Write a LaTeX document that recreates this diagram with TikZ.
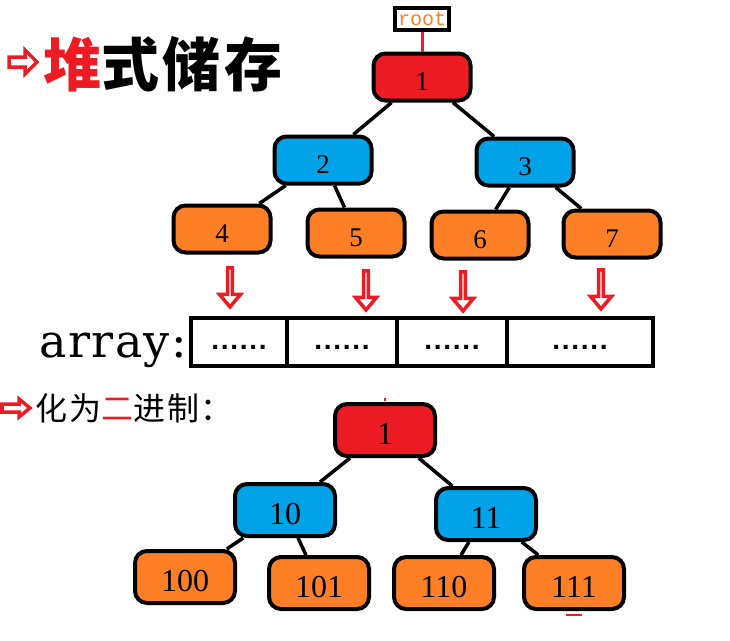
\documentclass[tikz,border=0pt]{standalone}
\usepackage{fontspec}
\setmainfont{Liberation Serif}
\newfontfamily\cjkTitle[LetterSpace=6]{Noto Sans CJK SC}
\newfontfamily\cjkLine[LetterSpace=6]{Noto Sans CJK SC}
\newfontfamily\monoFont{Liberation Mono}
\newfontfamily\dotFont[LetterSpace=6]{Liberation Sans}
\newfontfamily\arrayFont[LetterSpace=3]{DejaVu Serif}
\usetikzlibrary{shapes.arrows,positioning}
\definecolor{paintRed}{HTML}{ED1C24}
\definecolor{paintBlue}{HTML}{00A2E8}
\definecolor{paintOrange}{HTML}{FF7F27}

\begin{document}
\begin{tikzpicture}[x=1pt,y=-1pt,
    treeBox/.style={draw, line width=4pt, rounded corners=12pt, inner sep=0pt,
      minimum width=97pt, minimum height=47pt,
      font=\fontsize{27}{27}\selectfont, text height=26pt, text depth=0pt},
    binBox/.style={treeBox, minimum width=100pt, minimum height=52pt,
      font=\fontsize{32}{32}\selectfont, text height=28pt},
    treeEdge/.style={line width=3.5pt},
    arrowOutline/.style={draw=paintRed, fill=white, line width=3.5pt, line join=miter},
    downArrow/.style={single arrow, arrowOutline, inner sep=0pt,
      single arrow head extend=6pt, single arrow tip angle=80,
      shape border rotate=270, minimum height=39pt, minimum width=21pt},
    cellBox/.style={draw, line width=4pt, minimum height=48pt, inner sep=0pt,
      outer sep=0pt, font=\dotFont\bfseries\fontsize{28}{28}\selectfont,
      text height=14pt, text depth=0pt}]

  \useasboundingbox (0,0) rectangle (730,640);

  % headings
  \draw[arrowOutline] (9,57) -- (25,57) -- (25,50) -- (37,62) -- (25,74)
    -- (25,67) -- (9,67) -- cycle;
  \node[anchor=west, inner sep=0pt, font=\cjkTitle\bfseries\fontsize{58}{58}\selectfont]
    (title) at (43,64) {\textcolor{paintRed}{堆}式储存};
  \draw[arrowOutline] (2,404) -- (19,404) -- (19,399) -- (30,408) -- (19,417)
    -- (19,412) -- (2,412) -- cycle;
  \node[anchor=west, inner sep=0pt, font=\cjkLine\fontsize{32}{32}\selectfont]
    (binTitle) at (35,408) {化为\textcolor{paintRed}{二}进制：};

  % draw the heap tree
  \foreach \nm/\px/\py/\col/\lbl in {n1/422/77/paintRed/1,
      n2/323/160/paintBlue/2, n3/525/162/paintBlue/3,
      n4/222/229/paintOrange/4, n5/356/233/paintOrange/5,
      n6/480/235/paintOrange/6, n7/612/234/paintOrange/7}
    \node[treeBox, fill=\col] (\nm) at (\px,\py) {\lbl};
  \foreach \a/\b in {n1/n2, n1/n3, n2/n4, n2/n5, n3/n6, n3/n7}
    \draw[treeEdge] (\a) -- (\b);

  % root label
  \node[draw, line width=4pt, fill=white, inner sep=0pt, minimum width=54pt,
    minimum height=22pt, text=paintOrange, font=\monoFont\fontsize{20}{20}\selectfont]
    (rootLbl) at (422,19) {root};
  \draw[paintRed, line width=3pt] (rootLbl) -- (n1);

  % draw the array
  \node[cellBox, minimum width=96pt] (c1) at (239,342) {......};
  \node[cellBox, minimum width=110pt, right=0pt of c1] (c2) {......};
  \node[cellBox, minimum width=110pt, right=0pt of c2] (c3) {......};
  \node[cellBox, minimum width=146pt, right=0pt of c3] (c4) {......};
  \node[anchor=base east, inner sep=0pt, font=\arrayFont\fontsize{46}{46}\selectfont]
    (arrLbl) at (187,357) {array:};

  % arrows into the array
  \foreach \ax/\ay [count=\i] in {230/286, 366/289, 463/290, 601/288}
    \node[downArrow] (arr\i) at (\ax,\ay) {};

  % draw the binary tree
  \foreach \nm/\px/\py/\col/\lbl in {b1/385/430/paintRed/1,
      b10/285/510/paintBlue/10, b11/486/514/paintBlue/11,
      b100/185/577/paintOrange/100, b101/319/583/paintOrange/101,
      b110/444/583/paintOrange/110, b111/574/583/paintOrange/111}
    \node[binBox, fill=\col] (\nm) at (\px,\py) {\lbl};
  \foreach \a/\b in {b1/b10, b1/b11, b10/b100, b10/b101, b11/b110, b11/b111}
    \draw[treeEdge] (\a) -- (\b);

  % red marks
  \draw[paintRed, line width=2pt] ([yshift=1pt]b1.north) -- ([yshift=4pt]b1.north);
  \draw[paintRed, line width=2.5pt] ([xshift=-8pt,yshift=-4pt]b111.south)
    -- ([xshift=8pt,yshift=-4pt]b111.south);

\end{tikzpicture}
\end{document}
